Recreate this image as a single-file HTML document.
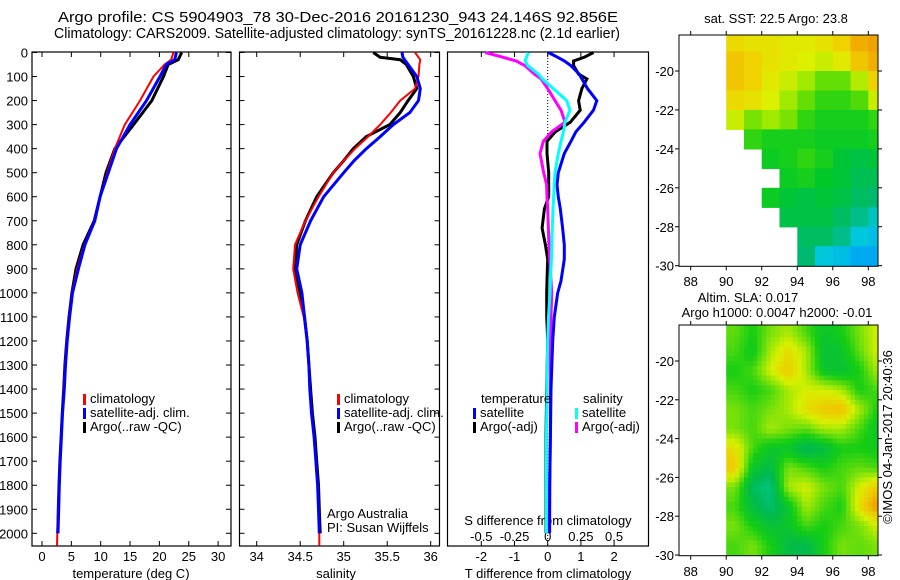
<!DOCTYPE html>
<html><head><meta charset="utf-8"><style>
body{margin:0;background:#fff;}
svg{display:block;font-family:"Liberation Sans",sans-serif;font-size:13px;}
</style></head><body>
<svg id="fig" width="900" height="580" viewBox="0 0 900 580">
<rect width="900" height="580" fill="#fff"/>
<text x="338" y="22" text-anchor="middle" font-size="15" textLength="560" lengthAdjust="spacingAndGlyphs">Argo profile: CS 5904903_78 30-Dec-2016 20161230_943 24.146S 92.856E</text>
<text x="337" y="38" text-anchor="middle" font-size="15" textLength="566" lengthAdjust="spacingAndGlyphs">Climatology: CARS2009. Satellite-adjusted climatology: synTS_20161228.nc (2.1d earlier)</text>
</svg>
<script>
// ---- data ----
const tDepth=[0,30,50,100,200,300,400,500,600,700,800,900,1000,1100,1200,1300,1400,1500,1600,1700,1800,1900,2000,2050];
const tempArgo=[23.8,23.2,21.5,20.7,18.7,15.6,12.4,10.9,9.9,8.9,7.0,5.8,5.1,4.6,4.2,3.9,3.7,3.45,3.25,3.05,2.9,2.78,2.68,null];
const tempClim=[22.4,22.0,20.9,19.0,16.7,14.1,12.4,11.1,9.9,8.9,7.2,6.0,5.1,4.6,4.2,3.9,3.7,3.45,3.25,3.05,2.9,2.75,2.6,2.55];
const tempSat=[22.9,22.6,21.2,20.1,17.8,15.0,12.7,11.3,9.9,9.0,7.3,6.2,5.2,4.7,4.3,4.0,3.8,3.5,3.3,3.1,2.95,2.84,2.72,null];
const sDepth=[0,20,30,50,100,150,200,250,300,350,400,450,500,600,700,800,900,1000,1100,1200,1300,1400,1500,1600,1700,1800,1900,2000,2050];
const salArgo=[35.34,35.42,35.65,35.72,35.80,35.84,35.74,35.65,35.53,35.26,35.11,35.0,34.88,34.69,34.56,34.46,34.44,34.50,34.55,34.58,34.60,34.62,34.64,34.67,34.69,34.71,34.72,34.73,null];
const salClim=[35.82,35.86,35.88,35.87,35.86,35.82,35.65,35.54,35.42,35.28,35.13,35.0,34.88,34.71,34.56,34.44,34.42,34.47,34.54,34.58,34.60,34.61,34.63,34.66,34.68,34.70,34.71,34.72,34.72];
const salSat=[35.67,35.68,35.70,35.74,35.84,35.88,35.86,35.76,35.57,35.42,35.26,35.12,35.0,34.77,34.62,34.50,34.46,34.52,34.55,34.58,34.60,34.61,34.63,34.66,34.68,34.70,34.71,34.72,null];
const dDepth=[0,20,35,55,90,110,150,200,240,290,330,370,420,500,550,600,650,730,800,860,950,1000,1100,1200,1400,1600,1800,2000];
const dTsat=[0.02,0.3,0.5,0.7,0.95,1.03,1.2,1.48,1.38,1.1,0.85,0.7,0.5,0.32,0.28,0.32,0.38,0.45,0.5,0.5,0.4,0.3,0.2,0.15,0.1,0.08,0.06,0.05];
const dTargo=[1.38,1.1,0.78,0.78,0.93,1.18,1.03,0.93,0.98,0.68,0.23,-0.02,-0.02,0.03,0.03,0.03,-0.1,-0.17,-0.07,0.0,-0.02,-0.03,-0.03,0.0,-0.03,-0.05,-0.05,-0.05];
const dSsat=[-0.146,-0.16,-0.17,-0.15,-0.07,-0.04,0.042,0.143,0.168,0.13,0.118,0.1,0.08,0.055,0.05,0.045,0.04,0.035,0.03,0.028,0.02,0.017,0.006,0.0,-0.005,-0.01,-0.01,-0.01];
const dSargo=[-0.47,-0.335,-0.24,-0.17,-0.1,-0.05,0.0,0.055,0.1,0.13,0.03,-0.033,-0.058,-0.03,-0.008,-0.005,0.0,0.005,0.01,0.015,0.025,0.03,0.025,0.02,0.02,0.02,0.015,0.015];
const depthTicks=[0,100,200,300,400,500,600,700,800,900,1000,1100,1200,1300,1400,1500,1600,1700,1800,1900,2000];
const tempTicks=[0,5,10,15,20,25,30];
const salTicks=[34,34.5,35,35.5,36];
const salTickLabels=["34","34.5","35","35.5","36"];
const dTTicks=[-2,-1,0,1,2];
const dSTicks=[-0.5,-0.25,0,0.25,0.5];
const dSTickLabels=["-0.5","-0.25","0","0.25","0.5"];
const sstLats=[-18,-19,-20,-21,-22,-23,-24,-25,-26,-27,-28,-29];
const mapLons=[90,91,92,93,94,95,96,97,98];
const sstGrid=[
[23.4,23.3,23.3,23.2,23.2,23.3,23.5,23.8,23.9],
[23.6,23.5,23.3,23.2,23.1,23.0,23.2,23.6,23.8],
[23.6,23.5,23.2,23.0,22.8,22.5,22.5,22.9,23.5],
[23.4,23.3,23.1,22.8,22.5,22.2,22.2,22.4,23.0],
[23.0,22.6,22.8,22.6,22.2,22.0,22.0,22.0,22.2],
[null,22.2,22.0,22.0,22.0,21.9,21.9,21.9,22.0],
[null,null,21.9,22.0,22.2,22.0,21.7,21.6,21.7],
[null,null,null,21.9,22.0,21.8,21.7,21.5,21.5],
[null,null,21.9,21.7,21.6,21.7,21.6,21.4,21.3],
[null,null,null,21.6,21.6,21.6,21.4,21.2,21.0],
[null,null,null,null,21.4,21.4,21.2,20.9,20.8],
[null,null,null,null,21.3,20.9,20.8,20.6,20.6]];
const slaGrid=[
[0.03,0.0,0.04,0.06,0.02,-0.02,0.0,0.04,0.08],
[0.02,-0.01,0.06,0.10,0.06,-0.03,-0.02,0.03,0.08],
[0.0,0.02,0.08,0.12,0.06,-0.02,-0.03,0.0,0.06],
[0.02,0.0,0.02,0.06,0.08,0.08,0.06,0.0,0.02],
[0.04,0.02,0.04,0.06,0.10,0.12,0.13,0.06,0.0],
[0.04,0.02,0.06,0.04,0.03,0.06,0.06,0.02,-0.02],
[0.10,0.02,-0.02,-0.02,-0.06,-0.04,0.0,0.0,-0.01],
[0.12,-0.02,-0.04,0.04,0.02,0.0,0.02,0.03,0.02],
[0.04,-0.06,-0.08,0.06,0.08,0.04,0.02,0.08,0.12],
[0.02,-0.04,-0.07,-0.02,0.06,0.02,0.0,0.10,0.16],
[0.04,0.0,-0.03,-0.02,0.02,0.0,0.02,0.04,0.08],
[0.02,0.04,0.0,-0.04,-0.05,0.0,0.04,0.03,0.04]];
const latTicks=[-20,-22,-24,-26,-28,-30];
const lonTicks=[88,90,92,94,96,98];

// ---- helpers ----
const NS="http://www.w3.org/2000/svg";
const svg=document.getElementById('fig');
function mk(tag,attrs,parent){const e=document.createElementNS(NS,tag);for(const k in attrs)e.setAttribute(k,attrs[k]);(parent||svg).appendChild(e);return e;}
function txt(x,y,s,anchor,parent){const t=mk('text',{x:x,y:y,'text-anchor':anchor||'start'},parent);t.textContent=s;return t;}
const Y0=52.5,YK=0.2404,PB=546,PT=52;
const yD=d=>Y0+d*YK;
const xT=v=>42+v*5.87;
const xS=v=>256.7+(v-34)*87;
const xDT=v=>547.7+v*33.2;
const xDS=v=>547.7+v*132.7;
function series(depths,vals,xf,color,w,name){
  const pts=[];for(let i=0;i<vals.length;i++){if(vals[i]!==null)pts.push(xf(vals[i]).toFixed(1)+','+yD(depths[i]).toFixed(1));}
  const p=mk('polyline',{points:pts.join(' '),fill:'none',stroke:color,'stroke-width':w,'stroke-linejoin':'miter'});
  
  
}
function frame(x0,x1,name){
  const r=mk('rect',{x:x0,y:PT,width:x1-x0,height:PB-PT,fill:'none',stroke:'#000','stroke-width':1.2});
  
  
}
function depthTicksOn(x0,x1,labels){
  depthTicks.forEach(d=>{const y=yD(d);
    mk('line',{x1:x0,x2:x0+5,y1:y,y2:y,stroke:'#000'});
    mk('line',{x1:x1-5,x2:x1,y1:y,y2:y,stroke:'#000'});
    if(labels){const t=txt(28,y+5,String(d),'end');
      
      }
  });
}
function legend(x,y,entries){
  entries.forEach((e,i)=>{const yy=y+i*14;
    mk('rect',{x:x,y:yy-9,width:3,height:11,fill:e[0]});
    const t=txt(x+7,yy,e[1]);
    
    
  });
}

// ---- Panel 1 temperature ----
frame(32,231,'temperature-axes');
depthTicksOn(32,231,true);
tempTicks.forEach(v=>{const x=xT(v);
  mk('line',{x1:x,x2:x,y1:PB,y2:PB-5,stroke:'#000'});mk('line',{x1:x,x2:x,y1:PT,y2:PT+5,stroke:'#000'});
  const t=txt(x,561,String(v),'middle');
  
  });
let t1=txt(131,578,'temperature (deg C)','middle');


series(tDepth,tempArgo,xT,'#000',3,'temp-argo-line');
series(tDepth,tempClim,xT,'#f00',2,'temp-climatology-line');
series(tDepth,tempSat,xT,'#00f',3,'temp-satellite-line');
legend(83,403,[['#f00','climatology'],['#00f','satellite-adj. clim.'],['#000','Argo(..raw -QC)']]);

// ---- Panel 2 salinity ----
frame(239.5,439.5,'salinity-axes');
depthTicksOn(239.5,439.5,false);
salTicks.forEach((v,i)=>{const x=xS(v);
  mk('line',{x1:x,x2:x,y1:PB,y2:PB-5,stroke:'#000'});mk('line',{x1:x,x2:x,y1:PT,y2:PT+5,stroke:'#000'});
  const t=txt(x,561,salTickLabels[i],'middle');
  
  });
let t2=txt(336,578,'salinity','middle');


series(sDepth,salArgo,xS,'#000',3,'sal-argo-line');
series(sDepth,salClim,xS,'#f00',2,'sal-climatology-line');
series(sDepth,salSat,xS,'#00f',3,'sal-satellite-line');
legend(337,403,[['#f00','climatology'],['#00f','satellite-adj. clim.'],['#000','Argo(..raw -QC)']]);
let c1=txt(327,518,'Argo Australia');
let c2=txt(327,532,'PI: Susan Wijffels');

// ---- Panel 3 differences ----
frame(447.5,648.5,'difference-axes');
mk('line',{x1:547.7,x2:547.7,y1:PT,y2:PB,stroke:'#000','stroke-dasharray':'1,2'});
dTTicks.forEach(v=>{const x=xDT(v);
  mk('line',{x1:x,x2:x,y1:PB,y2:PB-5,stroke:'#000'});
  const t=txt(x,561,String(v),'middle');
  
  });
dSTicks.forEach((v,i)=>{const x=xDS(v);
  mk('line',{x1:x,x2:x,y1:PT,y2:PT+5,stroke:'#000'});
  const t=txt(x,541,dSTickLabels[i],'middle');
  
  });
let t3=txt(548,525,'S difference from climatology','middle');

let t4=txt(548,578,'T difference from climatology','middle');

series(dDepth,dTargo,xDT,'#000',3,'t-diff-argo-line');
series(dDepth,dSargo,xDS,'#f0f',3,'s-diff-argo-line');
series(dDepth,dTsat,xDT,'#00f',3,'t-diff-satellite-line');
series(dDepth,dSsat,xDS,'#0ff',3,'s-diff-satellite-line');
let lt=txt(481,403,'temperature');
let ls=txt(583,403,'salinity');
legend(473,417,[['#00f','satellite'],['#000','Argo(-adj)']]);
legend(575,417,[['#0ff','satellite'],['#f0f','Argo(-adj)']]);

// ---- Maps ----
const sstStops=[[20.4,[0,150,255]],[20.9,[0,200,220]],[21.3,[0,185,110]],[21.8,[0,200,40]],[22.3,[60,215,10]],[22.7,[140,230,0]],[23.1,[220,240,0]],[23.5,[240,210,0]],[24.0,[240,150,0]]];
const slaStops=[[-0.09,[0,200,140]],[-0.05,[0,185,80]],[0.0,[20,205,20]],[0.04,[120,225,10]],[0.08,[215,240,0]],[0.12,[240,200,0]],[0.16,[240,150,0]]];
function colAt(stops,v){
  if(v<=stops[0][0])return 'rgb('+stops[0][1].join(',')+')';
  const last=stops[stops.length-1];if(v>=last[0])return 'rgb('+last[1].join(',')+')';
  for(let i=1;i<stops.length;i++){if(v<=stops[i][0]){const a=stops[i-1],b=stops[i],f=(v-a[0])/(b[0]-a[0]);
    return 'rgb('+[0,1,2].map(k=>Math.round(a[1][k]+(b[1][k]-a[1][k])*f)).join(',')+')';}}
}
function sampleGrid(grid,lon,lat){
  // grid values at cell centers (lon+0.5, lat-0.5)
  let fc=lon-90.5, fr=-18.5-lat;
  fc=Math.max(0,Math.min(grid[0].length-1,fc)); fr=Math.max(0,Math.min(grid.length-1,fr));
  const c0=Math.floor(fc),r0=Math.floor(fr),c1=Math.min(c0+1,grid[0].length-1),r1=Math.min(r0+1,grid.length-1);
  const a=fc-c0,b=fr-r0;
  return grid[r0][c0]*(1-a)*(1-b)+grid[r0][c1]*a*(1-b)+grid[r1][c0]*(1-a)*b+grid[r1][c1]*a*b;
}
function map(y0,y1,yLatK,yLat20,grid,stops,name,smooth,labelY){
  const x0=679,x1=878;
  const xL=l=>690.7+(l-88)*17.76;
  const yL=l=>yLat20+(-20-l)*yLatK;
  const cp=mk('clipPath',{id:'clip-'+name});mk('rect',{x:x0,y:y0,width:x1-x0,height:y1-y0},cp);
  const g=mk('g',{'clip-path':'url(#clip-'+name+')'});
  if(smooth){
    const st=0.25;
    for(let lat=-18;lat>-30;lat-=st){for(let lon=90;lon<98.5;lon+=st){
      const v=sampleGrid(grid,lon+st/2,lat-st/2);
      const cell=mk('rect',{x:xL(lon).toFixed(1),y:yL(lat).toFixed(1),width:(17.76*st+0.5).toFixed(1),height:(yLatK*st+0.5).toFixed(1),fill:colAt(stops,v)},g);
      
      
    }}
  } else {
    grid.forEach((row,r)=>row.forEach((v,c)=>{
      if(v===null)return;
      const lon=mapLons[c],lat=sstLats[r];
      const cell=mk('rect',{x:xL(lon).toFixed(1),y:yL(lat).toFixed(1),width:(17.76+0.6).toFixed(1),height:(yLatK+0.6).toFixed(1),fill:colAt(stops,v)},g);
      
      
    }));
  }
  const fr=mk('rect',{x:x0,y:y0,width:x1-x0,height:y1-y0,fill:'none',stroke:'#000'});
  
  
  latTicks.forEach(l=>{const y=yL(l);
    mk('line',{x1:x0-4,x2:x0,y1:y,y2:y,stroke:'#000'});mk('line',{x1:x1,x2:x1+4,y1:y,y2:y,stroke:'#000'});
    const t=txt(674,y+5,String(l),'end');
    
    });
  lonTicks.forEach(l=>{const x=xL(l);
    mk('line',{x1:x,x2:x,y1:y1,y2:y1+4,stroke:'#000'});mk('line',{x1:x,x2:x,y1:y0-4,y2:y0,stroke:'#000'});
    const t=txt(x,labelY,String(l),'middle');
    
    });
}
map(35,266.3,19.47,71,sstGrid,sstStops,'sst-map',false,286);
map(325,555.7,19.4,361,slaGrid,slaStops,'sla-map',true,576);
let m1=txt(776,23,'sat. SST: 22.5 Argo: 23.8','middle');
let m2=txt(748,302,'Altim. SLA: 0.017','middle');
let m3=txt(777,317,'Argo h1000: 0.0047 h2000: -0.01','middle');
let m4=txt(0,0,'©IMOS 04-Jan-2017 20:40:36','middle');
m4.setAttribute('transform','translate(892,437) rotate(-90)');


</script>
</body></html>
